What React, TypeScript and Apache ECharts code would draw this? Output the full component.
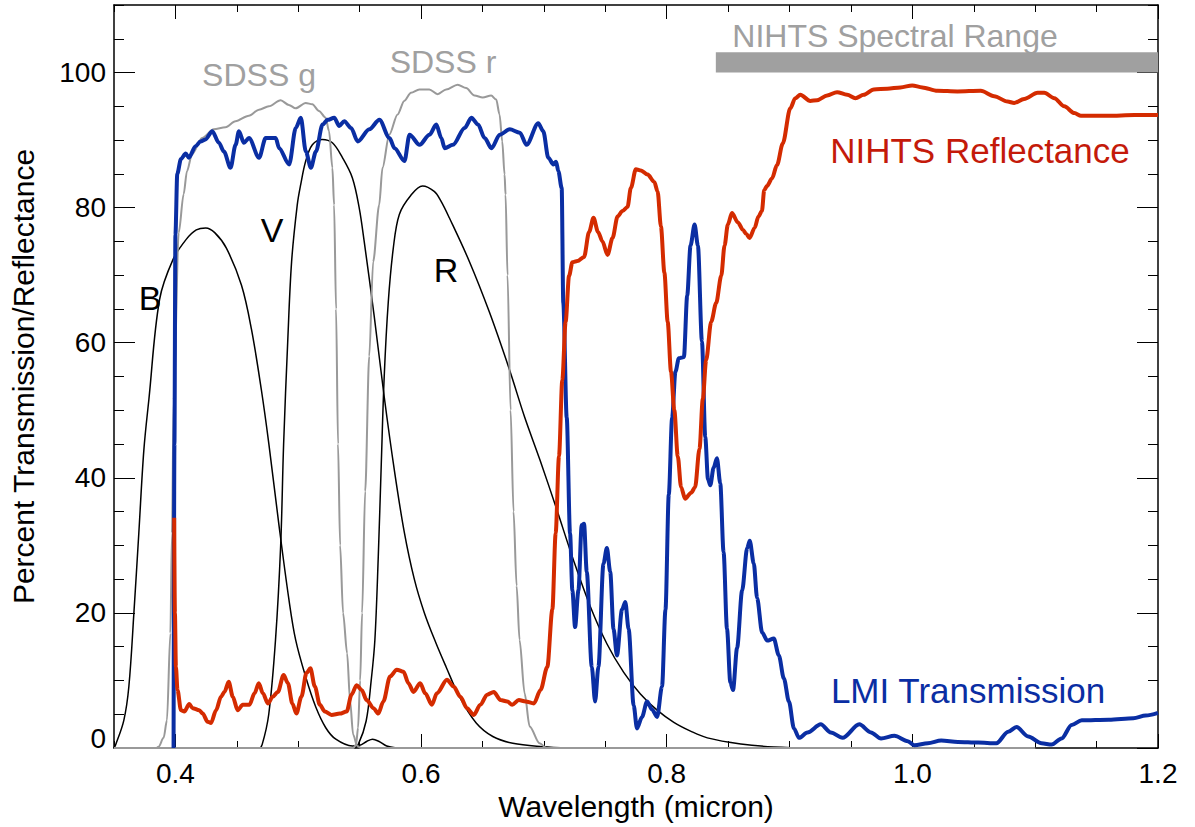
import React, { useEffect, useRef } from "react";
import * as echarts from "echarts";

const FONT = '"Liberation Sans", Arial, Helvetica, sans-serif';

// Axis ticks
const xMajorTicks = [0.4, 0.6, 0.8, 1.0, 1.2];
const xMinorTicks = [0.35, 0.4, 0.45, 0.5, 0.55, 0.6, 0.65, 0.7, 0.75, 0.8, 0.85, 0.9, 0.95, 1.0, 1.05, 1.1, 1.15, 1.2];
const yMajorTicks = [0, 20, 40, 60, 80, 100];
const yMinorTicks = [0, 5, 10, 15, 20, 25, 30, 35, 40, 45, 50, 55, 60, 65, 70, 75, 80, 85, 90, 95, 100, 105, 110];

// Johnson B, V, R filter curves (wavelength micron, percent)
const filterB: [number, number][] = [
  [0.35, 0], [0.3512, 0.4], [0.358, 4.1], [0.3621, 9.1], [0.3662, 20], [0.3702, 31.8], [0.3743, 44.1],
  [0.3784, 51.6], [0.3871, 66.4], [0.398, 72.3], [0.4088, 75.3], [0.417, 76.7], [0.4247, 77.0],
  [0.432, 76.3], [0.4415, 74.0], [0.4538, 68.5], [0.4619, 62], [0.4700, 53], [0.4761, 45], [0.4843, 33],
  [0.4924, 22], [0.4979, 16], [0.5061, 10.5], [0.5142, 6.1], [0.5224, 3.0], [0.5306, 1.3],
  [0.5441, 0.3], [0.55, 0.4], [0.556, 1.0], [0.5605, 1.3], [0.5655, 1.0], [0.572, 0.3], [0.58, 0],
];
const filterV: [number, number][] = [
  [0.35, 0], [0.468, 0], [0.4706, 0.5], [0.476, 5], [0.4815, 16], [0.4857, 30], [0.4881, 45],
  [0.4914, 60], [0.4946, 72], [0.4992, 80.4], [0.502, 83.4], [0.5061, 86.9], [0.5115, 89.3],
  [0.5196, 90.1], [0.5278, 89.6], [0.536, 87.4], [0.5441, 84.4], [0.5496, 80.0], [0.5537, 75.0],
  [0.5618, 64.0], [0.57, 52.0], [0.5782, 41.2], [0.5863, 32.0], [0.5945, 25.0], [0.6027, 20],
  [0.6122, 15.5], [0.6204, 12], [0.6312, 7.6], [0.6449, 3.7], [0.6584, 1.7], [0.6747, 0.7],
  [0.699, 0.2], [0.72, 0],
];
const filterR: [number, number][] = [
  [0.35, 0], [0.545, 0], [0.5488, 0.5], [0.5553, 4], [0.5594, 10], [0.5624, 16], [0.5651, 28],
  [0.5676, 42], [0.57, 55], [0.5733, 66], [0.5774, 74], [0.5823, 79], [0.5916, 81.8],
  [0.6012, 83.2], [0.6107, 82.4], [0.6161, 81.0], [0.623, 78.5], [0.6394, 72], [0.6557, 64.5],
  [0.672, 56], [0.6843, 49], [0.6969, 42.6], [0.7105, 35.3], [0.7241, 27.8], [0.7377, 21],
  [0.7514, 15.4], [0.765, 11.2], [0.7786, 8.0], [0.7922, 5.6], [0.8058, 3.8], [0.8194, 2.5],
  [0.8331, 1.5], [0.8603, 0.6], [0.8873, 0.15], [0.92, 0],
];

// SDSS g and r filter curves
const sdssG: [number, number][] = [
  [0.35, 0], [0.3847, 0], [0.3863, 0.2], [0.3904, 1.5], [0.3931, 4.1], [0.3959, 17], [0.3972, 31.8],
  [0.3986, 51.6], [0.4027, 76.3], [0.4067, 82], [0.4094, 85.4], [0.4135, 87.9], [0.4217, 90.3],
  [0.4312, 91.6], [0.4408, 91.9], [0.4489, 92.8], [0.4598, 93.6], [0.468, 94.5], [0.4761, 95.0],
  [0.4857, 95.9], [0.4924, 95.2], [0.4979, 94.7], [0.5061, 95.5], [0.5115, 95.3], [0.5169, 94.3],
  [0.5224, 93.3], [0.5251, 91.3], [0.5278, 85.9], [0.5292, 80.4], [0.5308, 65], [0.5324, 45],
  [0.5341, 30], [0.5365, 20], [0.5398, 14], [0.5422, 7], [0.5447, 2], [0.548, 0.3], [0.5512, 0],
  [1.1, 0],
];
const sdssR: [number, number][] = [
  [0.35, 0], [0.545, 0], [0.5471, 0.5], [0.5487, 3], [0.5504, 10], [0.552, 20], [0.5545, 38],
  [0.5578, 58], [0.561, 72], [0.5659, 80.4], [0.5686, 85.9], [0.5741, 90.8], [0.5809, 93.8],
  [0.5863, 95.8], [0.5918, 97.0], [0.5986, 97.5], [0.6067, 97.5], [0.6135, 96.8], [0.6204, 97.5],
  [0.6298, 98.2], [0.6367, 97.7], [0.6435, 96.6], [0.6502, 96.3], [0.6571, 96.6], [0.6612, 96.0],
  [0.6639, 93.8], [0.6661, 89.8], [0.668, 84.9], [0.6688, 81.9], [0.6704, 70], [0.6729, 50],
  [0.6753, 35], [0.6778, 24], [0.6802, 16], [0.6843, 8.1], [0.6884, 3.2], [0.6965, 0.7],
  [0.7022, 0], [1.1, 0],
];

// LMI transmission
const lmiTransmission: [number, number][] = [
  [0.3985, 0], [0.3992, 45], [0.4, 76], [0.4015, 85], [0.4045, 87.2], [0.4084, 88.0], [0.4109, 87.4],
  [0.4164, 89.1], [0.4204, 89.8], [0.4245, 90.1], [0.43, 91.3], [0.4354, 89.6], [0.4395, 88.3],
  [0.4449, 85.9], [0.449, 89.3], [0.4517, 91.3], [0.4558, 89.6], [0.4599, 90.3], [0.4681, 87.4],
  [0.4735, 90.3], [0.4817, 90.3], [0.4844, 88.8], [0.4926, 86.4], [0.498, 91.8], [0.5021, 93.3],
  [0.5062, 88.3], [0.5103, 85.9], [0.5144, 88.3], [0.5198, 92.3], [0.5239, 93.0], [0.5293, 93.3],
  [0.5334, 92.1], [0.5375, 92.8], [0.543, 91.8], [0.5484, 89.8], [0.5579, 91.6], [0.5661, 93.0],
  [0.5743, 90.3], [0.5784, 88.8], [0.5865, 86.9], [0.5906, 90.8], [0.5988, 89.3], [0.6069, 90.8],
  [0.6124, 92.3], [0.6165, 90.3], [0.6192, 88.8], [0.626, 89.3], [0.6355, 91.8], [0.641, 93.3],
  [0.6464, 92.3], [0.6518, 90.3], [0.6573, 88.8], [0.6641, 90.8], [0.6722, 91.6], [0.6804, 91.1],
  [0.6859, 89.3], [0.6954, 92.5], [0.6995, 91.3], [0.7036, 87.4], [0.7077, 86.4], [0.7099, 86.8],
  [0.7118, 85.4], [0.7145, 82.9], [0.7158, 65.9], [0.7186, 48.9], [0.7213, 31.8], [0.7232, 23.3],
  [0.7254, 17.9], [0.7281, 23.3], [0.7308, 33.0], [0.7327, 33.2], [0.7349, 26.1], [0.739, 12.0],
  [0.7417, 6.9], [0.7444, 12.0], [0.7485, 27.3], [0.7513, 29.6], [0.754, 26.1], [0.7567, 17.6],
  [0.7595, 13.7], [0.7636, 20.5], [0.7663, 21.6], [0.769, 17.6], [0.7731, 6.3], [0.7758, 2.9],
  [0.7799, 4.6], [0.784, 6.9], [0.7881, 5.7], [0.7922, 4.6], [0.7962, 9.1], [0.799, 20.5],
  [0.8017, 37.5], [0.8044, 48.9], [0.8071, 55.7], [0.8099, 57.7], [0.814, 57.9], [0.8167, 67.0],
  [0.8194, 74.4], [0.8227, 77.5], [0.8254, 74.4], [0.8287, 60.2], [0.8314, 46.0], [0.8336, 39.8],
  [0.8355, 38.9], [0.8382, 41.5], [0.8409, 42.9], [0.8436, 39.2], [0.8463, 29.0], [0.8491, 17.6],
  [0.8518, 9.7], [0.854, 8.6], [0.8573, 14.8], [0.8614, 23.3], [0.8655, 29.6], [0.8676, 30.7],
  [0.8709, 27.3], [0.8736, 22.2], [0.8777, 17.1], [0.8818, 15.9], [0.8872, 16.2], [0.8913, 13.7],
  [0.8954, 10.3], [0.8995, 6.9], [0.9036, 2.9], [0.9077, 1.5], [0.9146, 2.3], [0.9254, 3.5],
  [0.9336, 2.3], [0.9432, 1.5], [0.9568, 3.5], [0.9663, 2.3], [0.9745, 1.4], [0.9854, 1.8],
  [0.9963, 1.0], [1.0017, 0.4], [1.0126, 0.7], [1.0235, 1.1], [1.0371, 0.9], [1.0535, 0.8],
  [1.0684, 0.7], [1.078, 2.4], [1.0848, 3.1], [1.0943, 1.7], [1.1052, 0.7], [1.1134, 0.5],
  [1.1215, 1.4], [1.1297, 3.4], [1.1379, 4.1], [1.16, 4.2], [1.18, 4.4], [1.19, 4.8], [1.2, 5.2],
];

// NIHTS reflectance
const nihtsReflectance: [number, number][] = [
  [0.399, 34.1], [0.3996, 20], [0.4004, 12], [0.4017, 8.6], [0.4045, 5.6], [0.4072, 5.4], [0.4113, 6.5],
  [0.414, 5.9], [0.4194, 5.6], [0.4222, 5.1], [0.4262, 3.9], [0.429, 3.7], [0.4331, 5.6], [0.4371, 7.6],
  [0.4399, 8.3], [0.4434, 9.8], [0.4467, 7.6], [0.4507, 5.6], [0.4548, 6.4], [0.4603, 6.4],
  [0.4644, 8.1], [0.4679, 9.6], [0.4712, 8.1], [0.4753, 6.6], [0.4793, 7.6], [0.4834, 8.3],
  [0.4881, 10.8], [0.4916, 9.6], [0.4952, 6.6], [0.4985, 5.1], [0.5026, 7.6], [0.5067, 11.1],
  [0.5099, 11.8], [0.5135, 9.1], [0.5176, 6.4], [0.5216, 5.4], [0.5271, 4.9], [0.5339, 5.1],
  [0.5394, 5.4], [0.5434, 7.9], [0.5475, 9.3], [0.5516, 8.6], [0.5557, 7.1], [0.5612, 5.9],
  [0.5652, 5.1], [0.5693, 6.9], [0.5748, 10.6], [0.5802, 11.6], [0.5857, 11.3], [0.5897, 9.6],
  [0.5938, 8.3], [0.5993, 9.6], [0.6034, 8.1], [0.6088, 6.4], [0.6129, 8.1], [0.6211, 10.1],
  [0.6265, 9.1], [0.632, 7.6], [0.6374, 5.9], [0.6429, 4.9], [0.6483, 6.4], [0.6538, 7.9],
  [0.6592, 8.3], [0.6647, 7.1], [0.6701, 6.9], [0.6742, 6.4], [0.6796, 7.1], [0.6851, 6.9],
  [0.6919, 6.6], [0.6973, 8.6], [0.7028, 12.0], [0.7069, 20.5], [0.7096, 31.8], [0.7123, 43.2],
  [0.715, 54.5], [0.7177, 63.1], [0.7205, 69.9], [0.7232, 71.9], [0.7273, 72.1], [0.7327, 72.7],
  [0.7368, 76.4], [0.7404, 78.5], [0.7441, 76.4], [0.7477, 75.0], [0.7518, 73.0], [0.7559, 75.5],
  [0.76, 78.7], [0.764, 79.5], [0.7681, 80.1], [0.7708, 82.9], [0.7749, 85.7], [0.779, 85.5],
  [0.7845, 84.9], [0.7899, 83.8], [0.7926, 82.4], [0.7953, 77.2], [0.7981, 70.4], [0.8008, 63.1],
  [0.8035, 55.7], [0.8062, 50.0], [0.809, 43.2], [0.8117, 38.6], [0.815, 36.9], [0.8199, 37.8],
  [0.8231, 38.6], [0.8267, 44.3], [0.8294, 51.7], [0.8321, 57.4], [0.8362, 63.1], [0.8403, 65.9],
  [0.8444, 69.9], [0.8471, 74.4], [0.8498, 77.5], [0.8531, 79.2], [0.858, 77.8], [0.8621, 76.7],
  [0.8648, 76.1], [0.8675, 75.5], [0.8716, 77.0], [0.8747, 78.7], [0.8775, 79.5], [0.8794, 82.6],
  [0.8816, 83.2], [0.8857, 84.3], [0.8898, 86.3], [0.8945, 89.5], [0.9006, 94.7], [0.9047, 96.2],
  [0.9088, 96.7], [0.9169, 95.8], [0.9224, 95.9], [0.9306, 96.6], [0.9387, 97.1], [0.9469, 96.7],
  [0.9537, 96.2], [0.9604, 96.7], [0.9686, 97.5], [0.9796, 97.6], [0.9904, 97.8], [0.9999, 98.1],
  [1.0081, 97.8], [1.0204, 97.3], [1.0367, 97.2], [1.0557, 97.3], [1.0666, 96.5], [1.0775, 95.7],
  [1.0829, 95.5], [1.091, 96.1], [1.102, 97.0], [1.1074, 97.0], [1.1156, 96.2], [1.1237, 95.0],
  [1.1319, 94.0], [1.1373, 93.6], [1.1591, 93.6], [1.1809, 93.7], [1.2, 93.7],
];

// NIHTS spectral range bar (wavelength start/end, percent bottom/top)
const nihtsRangeX = [0.84, 1.2];
const nihtsRangeY = [100, 103];

const labelTexts = {
  sdssG: "SDSS g",
  sdssR: "SDSS r",
  range: "NIHTS Spectral Range",
  refl: "NIHTS Reflectance",
  lmi: "LMI Transmission",
  b: "B",
  v: "V",
  r: "R",
};

export default function App() {
  const ref = useRef<HTMLDivElement>(null);
  useEffect(() => {
    if (!ref.current) return;
    const chart = echarts.init(ref.current, undefined, { renderer: "svg" });
    const black = "#000";
    const axisCommonX = (position: string, major: boolean, withLine: boolean, withLabels: boolean) => ({
      type: "value",
      position,
      min: 0.35,
      max: 1.2,
      axisLine: { show: withLine, onZero: false, lineStyle: { color: black, width: 1.5 } },
      axisTick: {
        show: true,
        inside: true,
        length: major ? 14 : 7,
        customValues: major ? xMajorTicks : xMinorTicks,
        lineStyle: { color: black, width: 1 },
      },
      axisLabel: withLabels
        ? {
            show: true,
            customValues: xMajorTicks,
            formatter: (v: number) => v.toFixed(1),
            fontSize: 28,
            fontFamily: FONT,
            color: black,
            margin: 11,
          }
        : { show: false },
      splitLine: { show: false },
    });
    const axisCommonY = (position: string, major: boolean, withLine: boolean, withLabels: boolean) => ({
      type: "value",
      position,
      min: 0,
      max: 110,
      axisLine: { show: withLine, onZero: false, lineStyle: { color: black, width: 1.5 } },
      axisTick: {
        show: true,
        inside: true,
        length: major ? 21 : 10,
        customValues: major ? yMajorTicks : yMinorTicks,
        lineStyle: { color: black, width: 1 },
      },
      axisLabel: withLabels
        ? {
            show: true,
            customValues: yMajorTicks,
            formatter: (v: number) => (v === 0 ? "{z|0}" : String(v)),
            fontSize: 28,
            fontFamily: FONT,
            color: black,
            margin: 8,
            rich: { z: { fontSize: 28, fontFamily: FONT, color: black, padding: [0, 0, 20, 0] } },
          }
        : { show: false },
      splitLine: { show: false },
    });

    const xBottom: any = axisCommonX("bottom", true, true, true);
    xBottom.name = "Wavelength (micron)";
    xBottom.nameLocation = "middle";
    xBottom.nameGap = 39;
    xBottom.nameTextStyle = { fontSize: 30, fontFamily: FONT, color: black };
    const yLeft: any = axisCommonY("left", true, true, true);
    yLeft.name = "Percent Transmission/Reflectance";
    yLeft.nameLocation = "middle";
    yLeft.nameGap = 76;
    yLeft.nameTextStyle = { fontSize: 30, fontFamily: FONT, color: black };

    const line = (
      name: string,
      data: [number, number][],
      color: string,
      width: number,
      smooth: number,
      monotone: boolean,
      extra: any = {}
    ) => ({
      type: "line",
      name,
      data,
      xAxisIndex: 0,
      yAxisIndex: 0,
      showSymbol: false,
      symbol: "none",
      silent: true,
      smooth,
      ...(monotone ? { smoothMonotone: "x" } : {}),
      lineStyle: { color, width, join: "round" },
      ...extra,
    });

    const annotation = (text: string, x: number, y: number, color: string, size: number) => ({
      type: "text",
      x,
      y,
      silent: true,
      style: {
        text,
        fill: color,
        font: `${size}px ${FONT}`,
        fontSize: size,
        fontFamily: FONT,
        align: "center",
        verticalAlign: "middle",
        textAlign: "center",
        textVerticalAlign: "middle",
      },
    });

    chart.setOption({
      animation: false,
      backgroundColor: "#fff",
      grid: { left: 114, right: 37, top: 5, bottom: 79, containLabel: false },
      xAxis: [
        xBottom,
        axisCommonX("bottom", false, false, false),
        axisCommonX("top", true, true, false),
        axisCommonX("top", false, false, false),
      ],
      yAxis: [
        yLeft,
        axisCommonY("left", false, false, false),
        axisCommonY("right", true, true, false),
        axisCommonY("right", false, false, false),
      ],
      series: [
        line("B", filterB, "#000", 1.5, 0.35, false),
        line("V", filterV, "#000", 1.5, 0.35, false),
        line("R", filterR, "#000", 1.5, 0.35, false),
        line("SDSS g", sdssG, "#999999", 2, 0.3, true),
        line("SDSS r", sdssR, "#999999", 2, 0.3, true),
        line("LMI Transmission", lmiTransmission, "#0a2ea3", 4, 0.3, true),
        line("NIHTS Reflectance", nihtsReflectance, "#d42b00", 4, 0.3, true, {
          markArea: {
            silent: true,
            itemStyle: { color: "#a0a0a0", opacity: 1 },
            data: [[{ coord: [nihtsRangeX[0], nihtsRangeY[0]] }, { coord: [nihtsRangeX[1], nihtsRangeY[1]] }]],
          },
        }),
      ],
      graphic: [
        annotation(labelTexts.sdssG, 259, 75, "#a0a0a0", 32),
        annotation(labelTexts.sdssR, 443, 62, "#a0a0a0", 32),
        annotation(labelTexts.range, 895, 36, "#a0a0a0", 32),
        annotation(labelTexts.refl, 980, 150, "#c41a0a", 35),
        annotation(labelTexts.lmi, 968, 690, "#0a2ea3", 35),
        annotation(labelTexts.b, 150, 298, "#000", 34),
        annotation(labelTexts.v, 272, 230, "#000", 34),
        annotation(labelTexts.r, 446, 270, "#000", 34),
      ],
    });
    return () => chart.dispose();
  }, []);
  return (
    <div
      ref={ref}
      style={{ position: "fixed", left: 0, top: 0, width: 1195, height: 827, background: "#fff" }}
    />
  );
}
